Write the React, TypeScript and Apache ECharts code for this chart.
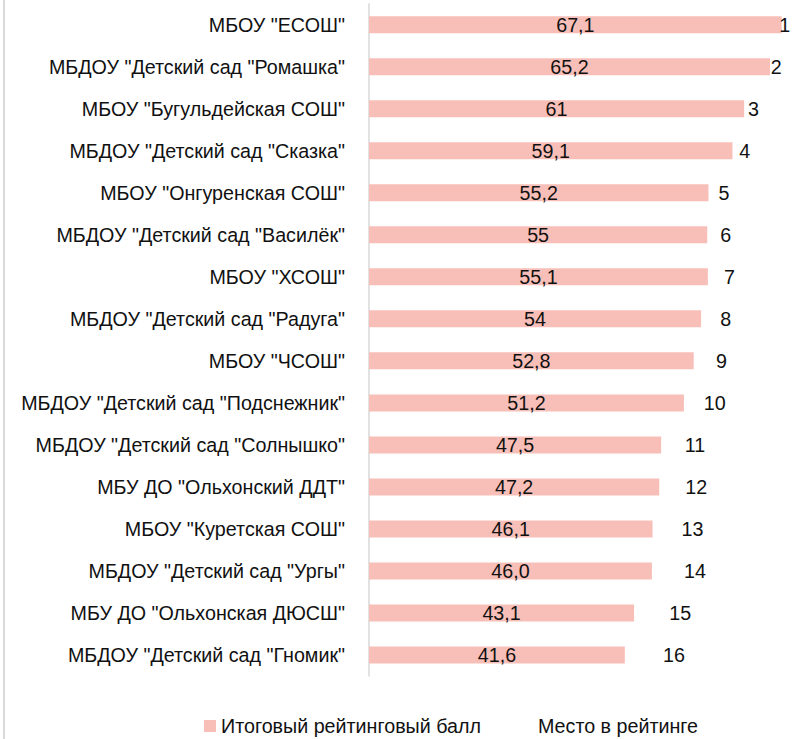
import React, { useEffect, useRef } from "react";
import * as echarts from "echarts";

const categories = [
  'МБОУ "ЕСОШ"',
  'МБДОУ "Детский сад "Ромашка"',
  'МБОУ "Бугульдейская СОШ"',
  'МБДОУ "Детский сад "Сказка"',
  'МБОУ "Онгуренская СОШ"',
  'МБДОУ "Детский сад "Василёк"',
  'МБОУ "ХСОШ"',
  'МБДОУ "Детский сад "Радуга"',
  'МБОУ "ЧСОШ"',
  'МБДОУ "Детский сад "Подснежник"',
  'МБДОУ "Детский сад "Солнышко"',
  'МБУ ДО "Ольхонский ДДТ"',
  'МБОУ "Куретская СОШ"',
  'МБДОУ "Детский сад "Ургы"',
  'МБУ ДО "Ольхонская ДЮСШ"',
  'МБДОУ "Детский сад "Гномик"',
];

const scores = [67.1, 65.2, 61, 59.1, 55.2, 55, 55.1, 54, 52.8, 51.2, 47.5, 47.2, 46.1, 46.0, 43.1, 41.6];
const scoreLabels = ["67,1", "65,2", "61", "59,1", "55,2", "55", "55,1", "54", "52,8", "51,2", "47,5", "47,2", "46,1", "46,0", "43,1", "41,6"];
const ranks = [1, 2, 3, 4, 5, 6, 7, 8, 9, 10, 11, 12, 13, 14, 15, 16];

const FONT = "'Liberation Sans', Arial, sans-serif";
const FS = 19.7;

export default function App() {
  const ref = useRef<HTMLDivElement>(null);
  useEffect(() => {
    if (!ref.current) return;
    const chart = echarts.init(ref.current, undefined, { renderer: "svg" });
    const xMax = 68.5;
    const pxPerUnit = 6.15;
    const left = 369;
    const width = xMax * pxPerUnit;
    chart.setOption({
      animation: false,
      textStyle: { fontFamily: FONT },
      graphic: [
        { type: "rect", left: 3, top: 0, shape: { width: 2, height: 739 }, style: { fill: "#d9d9d9" } },
      ],
      grid: { left, width, top: 3.7, bottom: 63, containLabel: false },
      legend: {
        top: 716,
        left: 204,
        padding: 0,
        itemWidth: 12,
        itemHeight: 12,
        itemGap: 40,
        icon: "rect",
        textStyle: { fontFamily: FONT, fontSize: FS, lineHeight: 20, color: "#111" },
        data: ["Итоговый рейтинговый балл", "Место в рейтинге"],
      },
      xAxis: {
        type: "value",
        min: 0,
        max: xMax,
        show: false,
        splitLine: { show: false },
      },
      yAxis: {
        type: "category",
        inverse: true,
        data: categories,
        axisLine: { show: true, lineStyle: { color: "#d9d9d9", width: 1.5 } },
        axisTick: { show: false },
        axisLabel: { margin: 24, fontFamily: FONT, fontSize: FS, color: "#111" },
      },
      series: [
        {
          name: "Итоговый рейтинговый балл",
          type: "bar",
          stack: "total",
          barWidth: 17,
          data: scores,
          itemStyle: { color: "#F8BFB8" },
          label: {
            show: true,
            position: "inside",
            fontFamily: FONT,
            fontSize: FS,
            color: "#111",
            formatter: (p: any) => scoreLabels[p.dataIndex],
          },
        },
        {
          name: "Место в рейтинге",
          type: "bar",
          stack: "total",
          barWidth: 17,
          data: ranks,
          itemStyle: { color: "transparent" },
          label: {
            show: true,
            position: "inside",
            fontFamily: FONT,
            fontSize: FS,
            color: "#111",
            formatter: (p: any) => String(ranks[p.dataIndex]),
          },
        },
      ],
    });
    return () => chart.dispose();
  }, []);
  return (
    <div
      ref={ref}
      style={{ position: "fixed", left: 0, top: 0, width: 792, height: 739, background: "#fff" }}
    />
  );
}
